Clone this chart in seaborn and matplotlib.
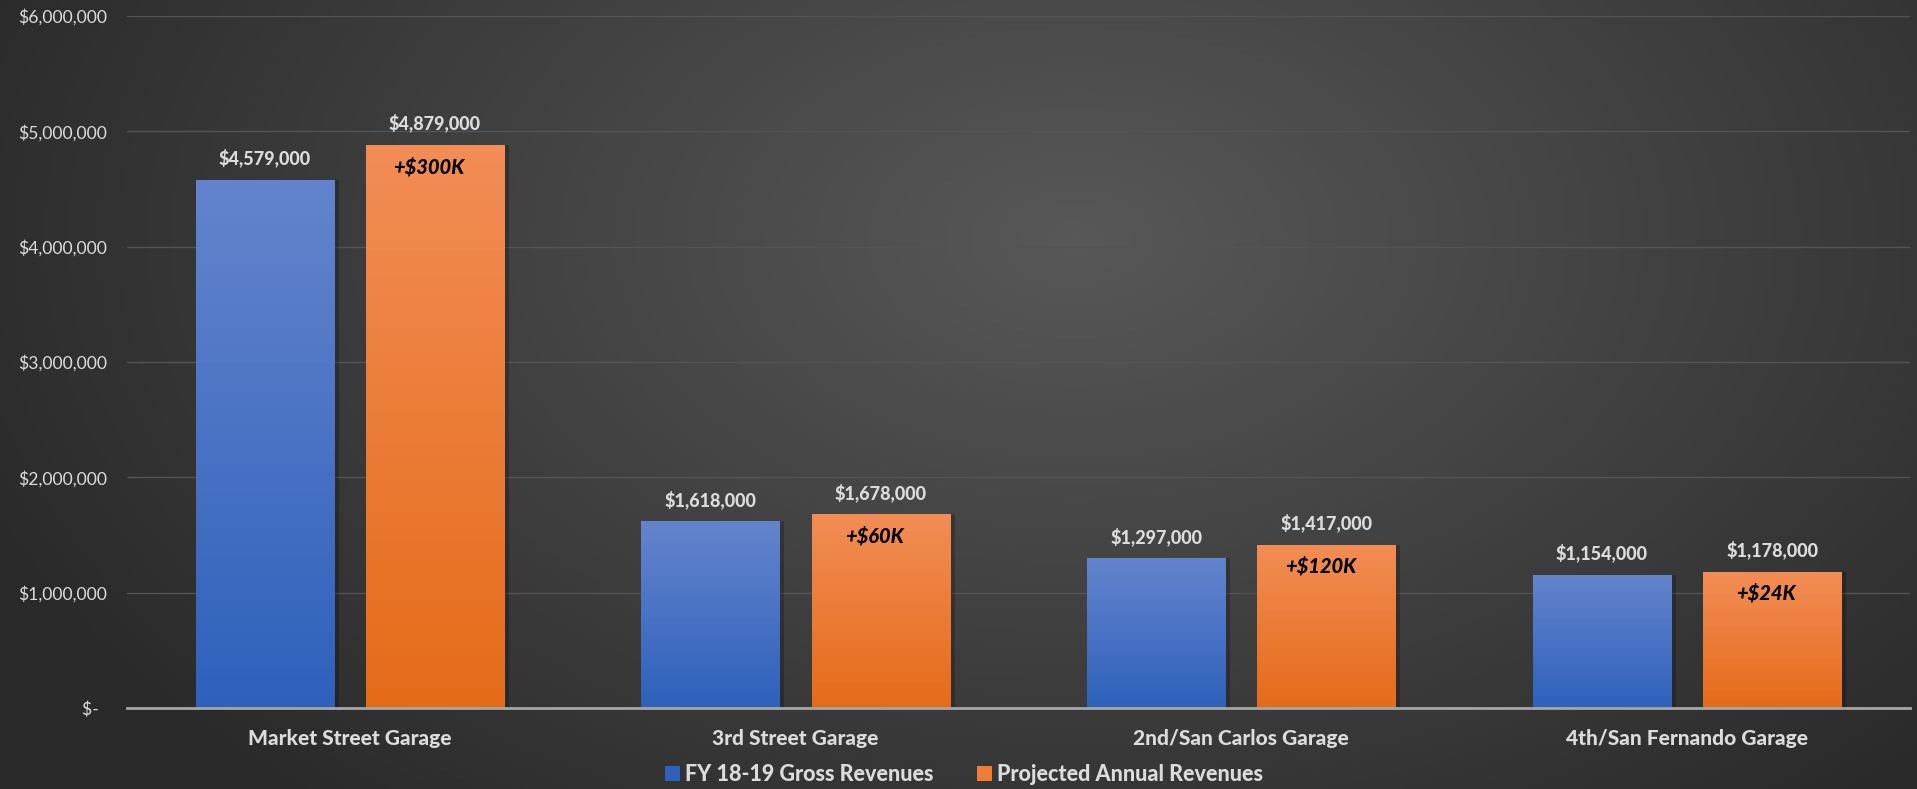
import numpy as np
import pandas as pd
import matplotlib
matplotlib.use("Agg")
import matplotlib.pyplot as plt
from matplotlib.colors import LinearSegmentedColormap
from matplotlib.patches import Rectangle
import seaborn as sns

# Garage revenue data
garages = ["Market Street Garage", "3rd Street Garage", "2nd/San Carlos Garage", "4th/San Fernando Garage"]
fy1819_revenue = [4579000, 1618000, 1297000, 1154000]
projected_revenue = [4879000, 1678000, 1417000, 1178000]
increase_labels = ["+$300K", "+$60K", "+$120K", "+$24K"]
series_names = ["FY 18-19 Gross Revenues", "Projected Annual Revenues"]
y_ticks = [0, 1000000, 2000000, 3000000, 4000000, 5000000, 6000000]

df = pd.DataFrame({
    "Garage": garages * 2,
    "Revenue": fy1819_revenue + projected_revenue,
    "Series": [series_names[0]] * len(garages) + [series_names[1]] * len(garages),
})

sns.set_theme(style="white")
plt.rcParams["font.family"] = ["Lato", "DejaVu Sans"]

TEXT = "#dcdcdc"
BLUE_TOP, BLUE_BOT = "#6384cd", "#2f61bb"
ORANGE_TOP, ORANGE_BOT = "#f28d55", "#e56b19"
BOLD = 900

fig = plt.figure(figsize=(19.17, 7.89), dpi=100)

# Radial gradient backdrop
bg_ax = fig.add_axes([0, 0, 1, 1], zorder=-10)
h, w = 200, 480
yy, xx = np.mgrid[0:h, 0:w]
cx, cy = 0.56 * w, 0.30 * h
r = np.sqrt(((xx - cx) / (0.62 * w)) ** 2 + ((yy - cy) / (0.95 * h)) ** 2)
r = np.clip(r, 0, 1)
bg_cmap = LinearSegmentedColormap.from_list("bg", ["#585858", "#2a2a2a"])
bg_ax.imshow(r, cmap=bg_cmap, aspect="auto", extent=[0, 1, 0, 1], vmin=0, vmax=1)
bg_ax.set_axis_off()

ax = fig.add_axes([0.0662, 0.1027, 0.9301, 0.877])
ax.set_facecolor("none")

sns.barplot(data=df, x="Garage", y="Revenue", hue="Series",
            palette=[BLUE_BOT, ORANGE_BOT], width=0.764, gap=0.188,
            ax=ax, legend=True, zorder=3)

bar_groups = [list(c) for c in ax.containers[:2]]

grad = np.linspace(0, 1, 128).reshape(-1, 1)
for group, (top, bot) in zip(bar_groups, [(BLUE_TOP, BLUE_BOT), (ORANGE_TOP, ORANGE_BOT)]):
    cmap = LinearSegmentedColormap.from_list("g", [top, bot])
    for patch in group:
        patch.set_linewidth(0)
        x0, y0 = patch.get_x(), patch.get_y()
        bw, bh = patch.get_width(), patch.get_height()
        # soft shadow on the right edge
        ax.add_patch(Rectangle((x0 + bw, y0), bw * 0.035, bh, facecolor="black",
                               alpha=0.22, linewidth=0, zorder=2))
        # vertical gradient fill clipped to the bar
        im = ax.imshow(grad, cmap=cmap, aspect="auto",
                       extent=[x0, x0 + bw, y0, y0 + bh], origin="upper", zorder=4)
        im.set_clip_path(patch)

ax.set_ylim(0, 6000000)
ax.set_xlim(-0.5, len(garages) - 0.5)

# Value labels above the bars
for group, values in zip(bar_groups, [fy1819_revenue, projected_revenue]):
    for patch, v in zip(group, values):
        ax.annotate(f"${v:,.0f}", (patch.get_x() + patch.get_width() / 2, v),
                    xytext=(0, 22), textcoords="offset pixels", ha="center", va="center",
                    fontsize=13, fontweight=BOLD, color=TEXT, zorder=6)

# Increase labels inside the projected bars
for patch, v, lab in zip(bar_groups[1], projected_revenue, increase_labels):
    ax.annotate(lab, (patch.get_x() + patch.get_width() / 2, v),
                xytext=(-6, -21), textcoords="offset pixels", ha="center", va="center",
                fontsize=14.5, fontweight=BOLD, fontstyle="italic", color="black", zorder=6)

# Axes styling
ax.set_yticks(y_ticks)
ax.set_yticklabels(["$-  " if t == 0 else f"${t:,.0f}" for t in y_ticks])
ax.tick_params(axis="y", length=0, pad=14, labelsize=12.6, labelcolor=TEXT)
ax.tick_params(axis="x", length=0, pad=15, labelsize=15, labelcolor=TEXT)
for lbl in ax.get_xticklabels():
    lbl.set_fontweight(BOLD)
ax.set_xlabel("")
ax.set_ylabel("")
ax.grid(axis="y", color="#545454", linewidth=1, zorder=0)
for side in ["top", "right", "left"]:
    ax.spines[side].set_visible(False)
ax.spines["bottom"].set_color("#a6a6a6")
ax.spines["bottom"].set_linewidth(2)
ax.spines["bottom"].set_zorder(5)

# Legend along the bottom
handles, labels = ax.get_legend_handles_labels()
handles, labels = handles[:2], labels[:2]
for hdl, c in zip(handles, [BLUE_BOT, "#f07d36"]):
    hdl.set_facecolor(c)
    hdl.set_linewidth(0)
ax.legend(handles, labels, loc="center", bbox_to_anchor=(0.503, 0.018),
          bbox_transform=fig.transFigure, ncol=2, frameon=False,
          handlelength=0.7, handleheight=0.7, handletextpad=0.25, columnspacing=2.0,
          prop={"weight": BOLD, "size": 15.5}, labelcolor=TEXT)

fig.savefig("out.png", dpi=100)
